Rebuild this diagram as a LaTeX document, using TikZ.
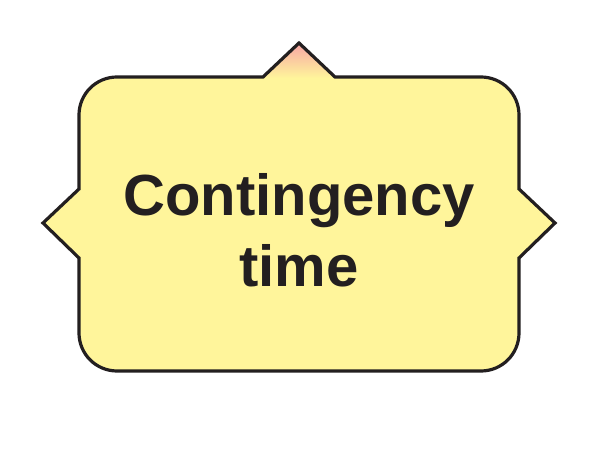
\documentclass[tikz,border=0pt]{standalone}
\usepackage{fontspec}
\setmainfont{Liberation Sans}
\definecolor{boxfill}{RGB}{255,245,155}
\definecolor{tippink}{RGB}{247,165,165}
\definecolor{outline}{RGB}{35,31,32}
\tikzset{
  shapeline/.style={draw=outline, line width=3.2pt, line join=miter, miter limit=10},
  labeltext/.style={font=\bfseries\fontsize{58}{71}\selectfont, text=outline, align=center, inner sep=0pt}
}
\begin{document}
\begin{tikzpicture}[x=1pt,y=1pt]
\useasboundingbox (0,0) rectangle (600,450);
\fill[white] (0,0) rectangle (600,450);
% body fill
\fill[boxfill] (117,373) -- (263,373) -- (299,407) -- (335,373) -- (481,373)
  arc[start angle=90, end angle=0, radius=38] -- (519,261) -- (555,227) -- (519,192) -- (519,117)
  arc[start angle=0, end angle=-90, radius=38] -- (117,79)
  arc[start angle=270, end angle=180, radius=38] -- (79,192) -- (43,227) -- (79,261) -- (79,335)
  arc[start angle=180, end angle=90, radius=38] -- cycle;
% tip gradient
\shade[top color=tippink, bottom color=boxfill] (263,372) -- (299,407) -- (335,372) -- cycle;
% outline
\draw[shapeline] (117,373) -- (263,373) -- (299,407) -- (335,373) -- (481,373)
  arc[start angle=90, end angle=0, radius=38] -- (519,261) -- (555,227) -- (519,192) -- (519,117)
  arc[start angle=0, end angle=-90, radius=38] -- (117,79)
  arc[start angle=270, end angle=180, radius=38] -- (79,192) -- (43,227) -- (79,261) -- (79,335)
  arc[start angle=180, end angle=90, radius=38] -- cycle;
\node[labeltext] (label) at (299,220) {Contingency\\time};
\end{tikzpicture}
\end{document}
